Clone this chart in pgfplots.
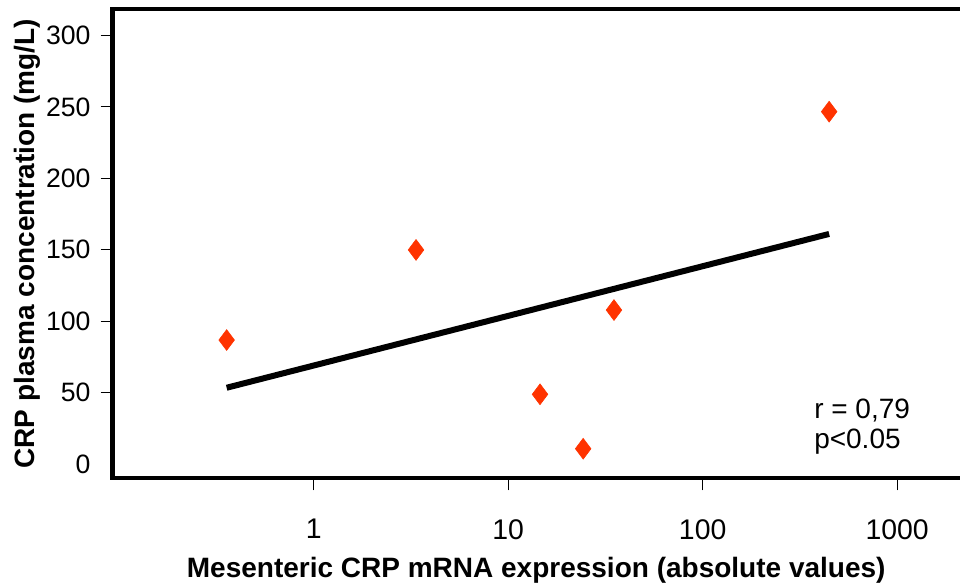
\documentclass[border=0pt]{standalone}
\usepackage{fontspec}
\setmainfont{Liberation Sans}
\usepackage{pgfplots}
\pgfplotsset{compat=1.18}
\definecolor{crpred}{RGB}{255,51,0}

\begin{document}
\begin{tikzpicture}
\begin{axis}[
    scale only axis, width=423.75pt, height=234.65pt,
    xmode=log, xmin=0.0924, xmax=2104, ymin=-10, ymax=318.6,
    axis x line*=bottom, axis y line*=left,
    axis line style={line width=2.2pt, line cap=rect},
    xtick={1,10,100,1000}, xticklabels={1,10,100,1000},
    xminorticks=false,
    ytick={50,100,...,300},
    extra y ticks={0}, extra y tick style={major tick style={draw=none}},
    tick align=outside, major tick length=6pt,
    tick style={black, line width=0.5pt},
    /pgf/number format/assume math mode=true,
    xticklabel style={font=\fontsize{14.2}{17}\selectfont, yshift=-11pt},
    yticklabel style={font=\fontsize{13.3}{16}\selectfont, xshift=-1.5pt},
    xlabel={\bfseries Mesenteric CRP mRNA expression (absolute values)},
    ylabel={\bfseries CRP plasma concentration (mg/L)},
    every axis x label/.style={at={([yshift=-49.5pt]axis description cs:0.5,0)}, anchor=base, font=\fontsize{14}{16}\selectfont},
    every axis y label/.style={at={([xshift=-42.5pt]axis description cs:0,0.5)}, anchor=center, rotate=90, font=\fontsize{14}{16}\selectfont},
    clip=false,
]
% regression line
\addplot[black, line width=3pt] coordinates {(0.357,53.4) (447,161.1)};
% patients
\addplot[only marks, mark=diamond*, mark size=5.2pt,
    mark options={fill=crpred, draw=crpred, line width=0.3pt}] coordinates {
    (0.357,86.8) (3.36,149.9) (14.58,48.8) (24.3,10.7) (35.0,107.8) (447,246.7)};
\draw[line width=2.2pt, line cap=rect] (rel axis cs:0,1) -- (rel axis cs:1,1);
\node[anchor=base west, inner sep=0pt, font=\fontsize{14}{16}\selectfont] at (axis cs:373,32.2) {r = 0,79};
\node[anchor=base west, inner sep=0pt, font=\fontsize{14}{16}\selectfont] at (axis cs:373,11.2) {p<0.05};
\end{axis}
\pgfresetboundingbox
\path[use as bounding box] (-56.25pt,-52.35pt) rectangle (423.75pt,239.15pt);
\end{tikzpicture}
\end{document}
